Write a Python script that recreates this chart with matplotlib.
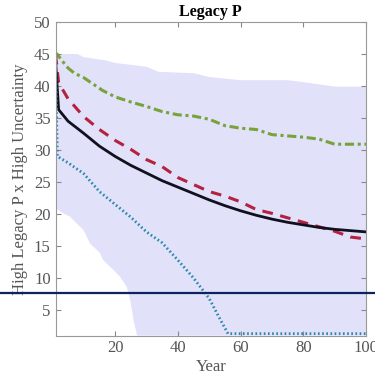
import matplotlib.pyplot as plt
from matplotlib.lines import Line2D

plt.rcParams['font.family'] = ['Liberation Serif', 'DejaVu Serif']

# band (range across runs)
band_up_x = [1, 8, 10, 17, 20, 30, 34, 45, 50, 60, 75, 80, 90, 100]
band_up_y = [45, 45, 44.5, 44, 43.6, 43, 42.2, 42, 41.4, 40.9, 40.9, 40.6, 39.9, 39.9]
band_lo_x = [1, 3.5, 5.6, 7.8, 9.9, 12, 15.2, 16.2, 19.4, 21.6, 23.7, 24.8, 25.9, 27, 100]
band_lo_y = [20.9, 20.1, 19.6, 18.5, 17.5, 15.4, 13.9, 12.8, 11.3, 10.2, 8.6, 6.6, 3.4, 1, 1]

years = [1, 2, 5, 10, 15, 20, 25, 30, 35, 40, 45, 50, 55, 60, 65, 70, 75,
         80, 85, 90, 95, 100]
mean_p = [44, 36.3, 34.5, 32.6, 30.6, 29.0, 27.6, 26.4, 25.2, 24.2, 23.2,
          22.2, 21.3, 20.5, 19.8, 19.2, 18.7, 18.3, 17.9, 17.6, 17.4, 17.2]
median_p = [45, 40.5, 38, 35.2, 33.2, 31.5, 30.1, 28.5, 27.4, 25.7, 24.6,
            23.5, 22.8, 21.9, 20.7, 20.1, 19.4, 18.7, 18.0, 17.3, 16.4, 16.1]

green_x = [1, 1.5, 3, 5, 7, 10, 13, 16, 20, 25, 30, 35, 40, 45, 50, 55, 60,
           65, 70, 75, 80, 85, 90, 95, 100]
green_y = [44.5, 45, 44, 42.8, 42, 41.3, 40.3, 39.3, 38.3, 37.5, 36.8, 36,
           35.5, 35.3, 34.8, 33.8, 33.4, 33.2, 32.4, 32.2, 32.0, 31.7, 30.9,
           30.9, 30.9]

cyan_x = [1, 1.3, 1.6, 5, 10, 15, 20, 25, 30, 35, 40, 45, 50, 53, 56, 60, 100]
cyan_y = [45, 36, 29, 28, 26.3, 23.5, 21.5, 19.5, 17.2, 15.5, 12.8, 10, 6.8,
          4, 1.3, 1.3, 1.3]

fig = plt.figure(figsize=(3.75, 3.82), dpi=100)
ax = fig.add_axes([0.148, 0.1215, 0.828, 0.821])

ax.fill(band_up_x + band_lo_x[::-1], band_up_y + band_lo_y[::-1],
        color='#e1e1fa', lw=0)

ax.plot(green_x, green_y, color='#78a33a', lw=2.2, ls=(0, (3, 1.2, 1, 1.2)))
ax.plot(years, median_p, color='#b3223f', lw=2.2, ls=(0, (3.5, 2.5)))
ax.plot(years, mean_p, color='#10101e', lw=2)
ax.plot(cyan_x, cyan_y, color='#2c86ad', lw=2, ls=(0, (0.6, 0.9)))

ax.set_xlim(1, 100)
ax.set_ylim(1, 50)
ax.set_xticks([20, 40, 60, 80, 100])
ax.set_yticks(range(5, 51, 5))
ax.tick_params(direction='in', top=True, right=True, length=3.5,
               color='#888888', labelsize=12, labelcolor='#555555')
for s in ax.spines.values():
    s.set_color('#999999')

ax.set_title('Legacy P', fontsize=11.5, fontweight='bold', pad=4)
ax.set_xlabel('Year', fontsize=12, color='#555555', labelpad=2)
ax.set_ylabel('High Legacy P x High Uncertainty', fontsize=12,
              color='#555555', labelpad=4)

fig.add_artist(Line2D([0, 1], [0.2338, 0.2338], transform=fig.transFigure,
                      color='#0b2460', lw=1.6))

fig.savefig('out.png', dpi=100)
